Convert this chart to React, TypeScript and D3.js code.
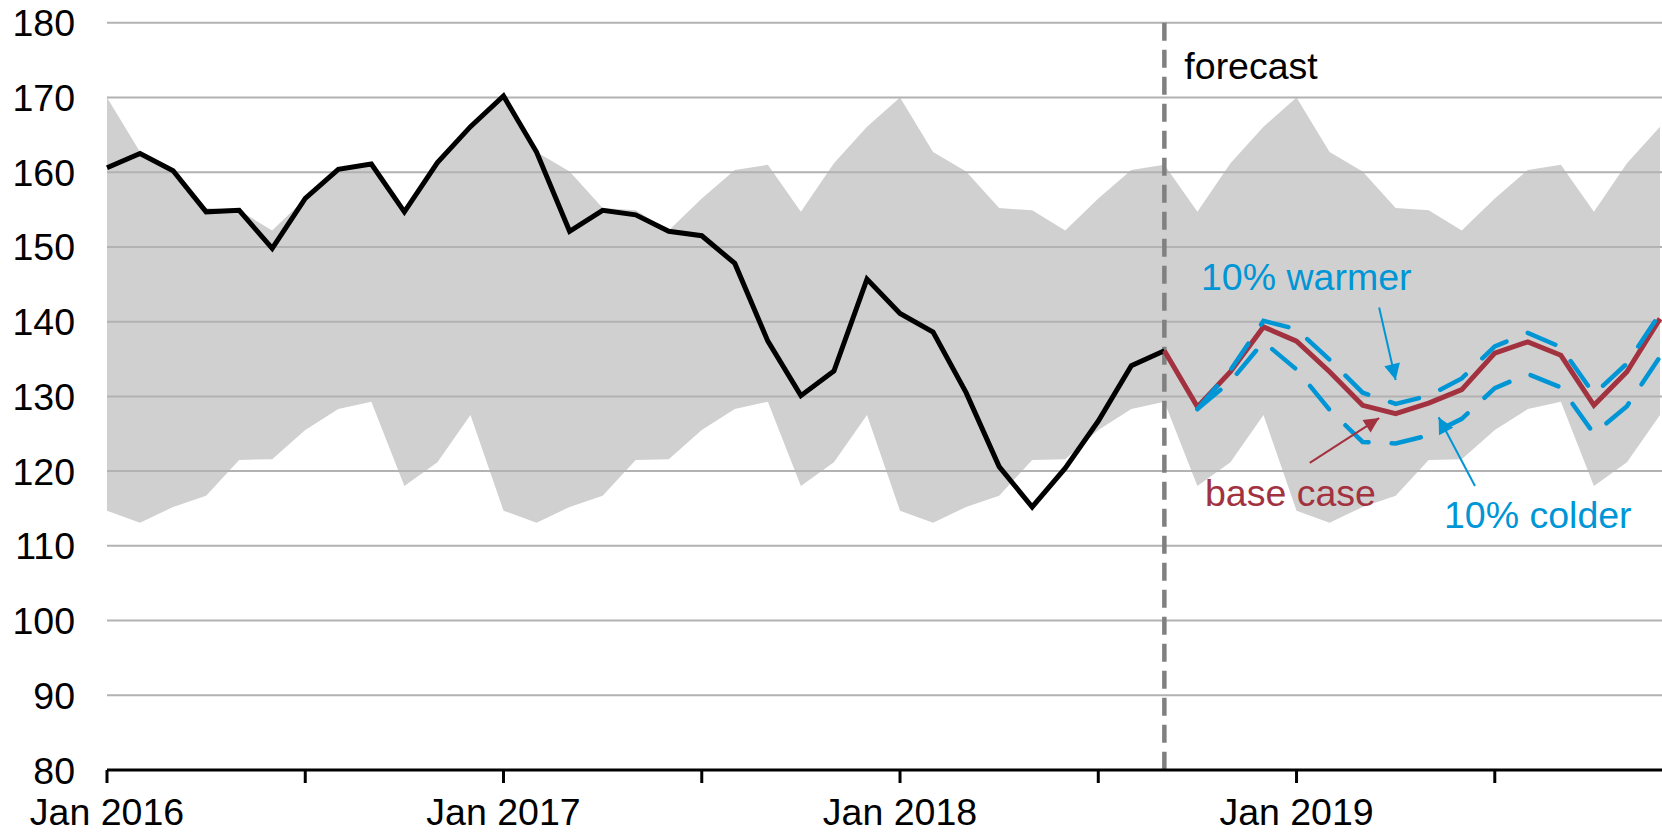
import React from 'react';
import * as d3 from 'd3';

// monthly index 0 = Jan 2016 ... 47 = Dec 2019
const yearLabels = ['Jan 2016', 'Jan 2017', 'Jan 2018', 'Jan 2019'];
const yTicks = [80, 90, 100, 110, 120, 130, 140, 150, 160, 170, 180];

// historical series, Jan 2016 - Sep 2018
const history = [
  160.6, 162.5, 160.2, 154.7, 154.9, 149.8, 156.5, 160.4, 161.1, 154.7, 161.3, 166.1,
  170.2, 162.7, 152.1, 154.9, 154.3, 152.1, 151.5, 147.8, 137.4, 130.1, 133.4, 145.7,
  141.1, 138.6, 130.5, 120.6, 115.2, 120.4, 126.7, 134.1, 136.1,
];

// forecast, Sep 2018 - Dec 2019
const baseCase = [
  136.1, 128.6, 133.3, 139.3, 137.4, 133.3, 128.8, 127.7, 129.1, 130.9, 135.8, 137.3,
  135.5, 128.8, 133.3, 140.4,
];
// Oct 2018 - Dec 2019
const warmer = [
  128.3, 133.5, 140.1, 139.0, 134.9, 130.5, 129.0, 130.1, 132.4, 136.7, 138.5, 136.6,
  130.3, 134.4, 141.1,
];
const colder = [
  128.3, 132.0, 137.3, 133.6, 128.2, 123.9, 123.7, 124.8, 127.0, 131.1, 133.0, 131.2,
  125.0, 128.7, 135.3,
];

// range band by calendar month (Jan..Dec)
const bandHigh = [170.0, 162.7, 160.1, 155.2, 154.9, 152.2, 156.5, 160.3, 161.0, 154.7, 161.2, 166.1];
const bandLow = [114.7, 113.1, 115.2, 116.7, 121.5, 121.6, 125.5, 128.3, 129.3, 118.0, 121.2, 127.5];

const FORECAST_START = 32;
const N_MONTHS = 48;

const BLUE = '#0096d6';
const RED = '#a2323f';
const FONT = '"Liberation Sans", Arial, sans-serif';
const FS = 37.5;

const App = () => {
  const width = 1662;
  const height = 832;

  const x = d3.scaleLinear().domain([0, N_MONTHS - 1]).range([107, 1660]);
  const y = d3.scaleLinear().domain([80, 180]).range([770, 22.8]);

  const months = d3.range(N_MONTHS);

  const area = d3
    .area<number>()
    .x((i) => x(i))
    .y0((i) => y(bandLow[i % 12]))
    .y1((i) => y(bandHigh[i % 12]));

  const lineFrom = (start: number) =>
    d3
      .line<number>()
      .x((d, i) => x(start + i))
      .y((d) => y(d));

  const halfYearTicks = months.filter((i) => i % 6 === 0);

  return (
    <svg
      width={width}
      height={height}
      style={{ position: 'absolute', left: 0, top: 0, display: 'block', background: '#fff' }}
      fontFamily={FONT}
    >
      <defs>
        <marker id='arrBlue' viewBox='0 0 10 10' refX='10' refY='5' markerWidth='17' markerHeight='16'
          markerUnits='userSpaceOnUse' orient='auto'>
          <path d='M0,0 L10,5 L0,10 z' fill={BLUE} />
        </marker>
        <marker id='arrRed' viewBox='0 0 10 10' refX='10' refY='5' markerWidth='17' markerHeight='15'
          markerUnits='userSpaceOnUse' orient='auto'>
          <path d='M0,0 L10,5 L0,10 z' fill={RED} />
        </marker>
      </defs>

      {/* grey range band */}
      <path d={area(months) || ''} fill='#d0d0d0' />

      {/* gridlines */}
      {yTicks.slice(1).map((t) => (
        <line key={t} x1={107} x2={width} y1={y(t)} y2={y(t)} stroke='#b2b2b2' strokeWidth={2} />
      ))}

      {/* y labels */}
      {yTicks.map((t) => (
        <text key={t} x={75} y={y(t) + 13.5} textAnchor='end' fontSize={FS} fill='#000'>
          {t}
        </text>
      ))}

      {/* forecast divider */}
      <line
        x1={x(FORECAST_START)}
        x2={x(FORECAST_START)}
        y1={y(180)}
        y2={y(80)}
        stroke='#808080'
        strokeWidth={4.5}
        strokeDasharray='18 9'
      />
      <text x={x(FORECAST_START) + 20} y={79} fontSize={FS} fill='#000'>
        forecast
      </text>

      {/* history */}
      <path d={lineFrom(0)(history) || ''} fill='none' stroke='#000' strokeWidth={5} />

      {/* base case */}
      <path d={lineFrom(FORECAST_START)(baseCase) || ''} fill='none' stroke={RED} strokeWidth={5} />

      {/* scenarios */}
      <path d={lineFrom(FORECAST_START + 1)(warmer) || ''} fill='none' stroke={BLUE} strokeWidth={4.5}
        strokeDasharray='30 23' strokeLinecap='round' />
      <path d={lineFrom(FORECAST_START + 1)(colder) || ''} fill='none' stroke={BLUE} strokeWidth={4.5}
        strokeDasharray='30 23' strokeLinecap='round' />

      {/* annotations */}
      <text x={1201} y={290} fontSize={FS} fill={BLUE}>10% warmer</text>
      <line x1={x(38.5)} y1={y(141.9)} x2={x(39)} y2={y(132.2)} stroke={BLUE} strokeWidth={2}
        markerEnd='url(#arrBlue)' />

      <text x={1205} y={506} fontSize={FS} fill={RED}>base case</text>
      <line x1={x(36.4)} y1={y(121.1)} x2={x(38.5)} y2={y(127.1)} stroke={RED} strokeWidth={2}
        markerEnd='url(#arrRed)' />

      <text x={1444} y={528} fontSize={FS} fill={BLUE}>10% colder</text>
      <line x1={x(41.4)} y1={y(118.0)} x2={x(40.3)} y2={y(127.2)} stroke={BLUE} strokeWidth={2}
        markerEnd='url(#arrBlue)' />

      {/* x axis */}
      <line x1={107} x2={width} y1={y(80)} y2={y(80)} stroke='#000' strokeWidth={3} />
      {halfYearTicks.map((i) => (
        <line key={i} x1={x(i)} x2={x(i)} y1={y(80)} y2={y(80) + 13} stroke='#000' strokeWidth={3} />
      ))}
      {yearLabels.map((lab, k) => (
        <text key={lab} x={x(k * 12)} y={825} textAnchor='middle' fontSize={FS} fill='#000'>
          {lab}
        </text>
      ))}
    </svg>
  );
};

export default App;
